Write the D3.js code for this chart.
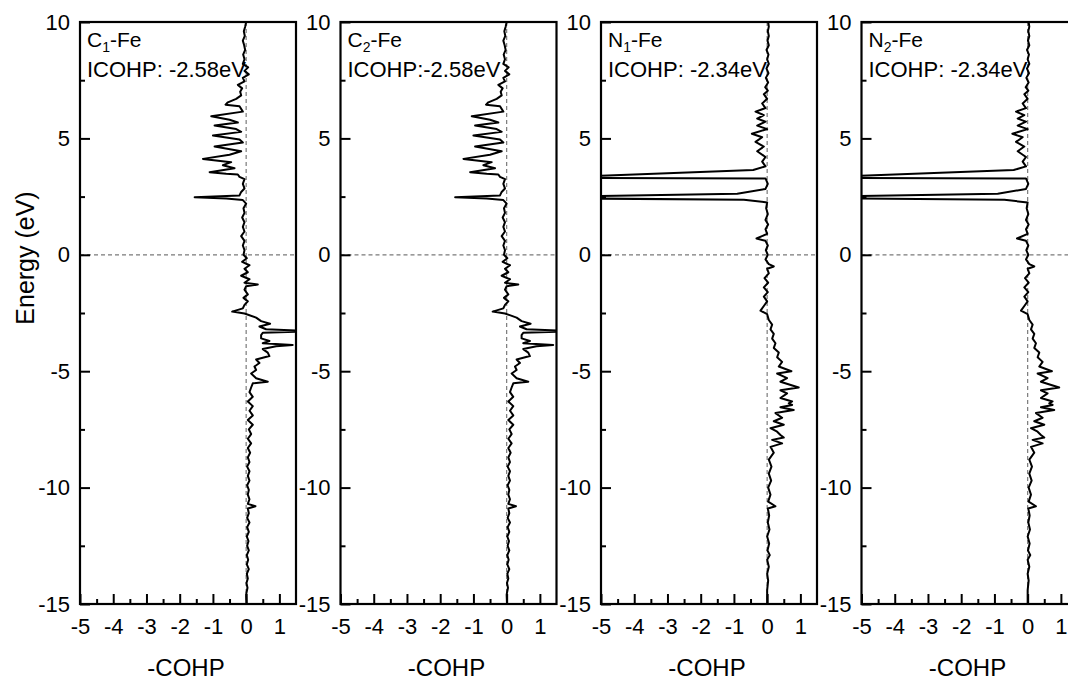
<!DOCTYPE html>
<html>
<head>
<meta charset="utf-8">
<script src="https://cdn.jsdelivr.net/npm/d3@7"></script>
<style>
  body { margin: 0; background: #fff; }
  text { font-family: "Liberation Sans", Arial, sans-serif; fill: #000; }
</style>
</head>
<body>
<div id="chart"></div>
<script>
// -COHP curves: [energy (eV), -COHP]
var c1Fe = [
  [10,0.0],[9.8,-0.03],[9.6,-0.07],[9.4,-0.04],[9.2,-0.1],[9.0,-0.06],[8.8,-0.03],[8.6,-0.09],
  [8.4,-0.05],[8.2,-0.1],[8.05,0.06],[7.9,-0.05],[7.75,0.08],[7.6,-0.1],[7.45,-0.05],[7.3,-0.25],
  [7.15,-0.12],[7.0,-0.18],[6.85,-0.15],[6.7,-0.3],[6.55,-0.55],[6.45,-0.62],[6.38,-0.2],[6.15,-0.1],
  [5.95,-1.05],[5.8,-0.5],[5.68,-0.25],[5.55,-0.95],[5.4,-0.3],[5.28,-0.15],[5.12,-1.0],[4.95,-0.2],
  [4.82,-0.1],[4.65,-0.95],[4.45,-0.15],[4.3,-0.5],[4.12,-1.3],[3.98,-0.45],[3.85,-0.7],[3.72,-0.35],
  [3.55,-1.1],[3.48,-0.6],[3.45,-0.25],[3.35,-0.2],[3.25,-0.05],[3.05,-0.1],[2.85,-0.05],[2.7,-0.15],
  [2.55,-0.2],[2.47,-1.55],[2.42,-0.6],[2.35,-0.1],[2.2,0.0],[2.0,-0.08],[1.8,-0.05],[1.6,-0.12],
  [1.4,-0.05],[1.2,-0.1],[1.0,-0.05],[0.8,-0.15],[0.6,-0.05],[0.4,-0.1],[0.2,-0.05],[0.0,-0.08],
  [-0.15,0.02],[-0.3,-0.12],[-0.45,0.1],[-0.6,-0.05],[-0.75,0.05],[-0.9,-0.15],[-1.05,0.1],[-1.2,-0.05],
  [-1.28,0.35],[-1.35,0.0],[-1.5,-0.05],[-1.7,0.05],[-1.85,-0.08],[-2.0,0.05],[-2.15,-0.05],[-2.3,-0.1],
  [-2.44,-0.42],[-2.52,-0.05],[-2.7,0.3],[-2.85,0.45],[-2.96,0.72],[-3.08,0.4],[-3.2,0.6],[-3.26,1.7],
  [-3.3,1.7],[-3.35,0.5],[-3.45,0.45],[-3.59,0.45],[-3.7,0.7],[-3.8,0.5],[-3.87,1.4],[-3.93,0.9],
  [-4.05,0.5],[-4.2,0.65],[-4.35,0.7],[-4.5,0.3],[-4.65,0.4],[-4.8,0.25],[-4.95,0.3],[-5.1,0.15],
  [-5.3,0.3],[-5.45,0.65],[-5.52,0.2],[-5.7,0.15],[-5.9,0.1],[-6.1,0.2],[-6.3,0.05],[-6.5,0.2],
  [-6.7,0.1],[-6.9,0.2],[-7.1,0.05],[-7.3,0.2],[-7.5,0.08],[-7.7,0.15],[-7.9,0.05],[-8.1,0.15],
  [-8.3,0.05],[-8.5,0.12],[-8.7,0.05],[-8.9,0.1],[-9.1,0.03],[-9.3,0.1],[-9.5,0.05],[-9.7,0.1],
  [-9.9,0.03],[-10.1,0.08],[-10.3,0.05],[-10.5,0.1],[-10.7,0.05],[-10.8,0.28],[-10.9,0.05],[-11.1,0.08],
  [-11.3,0.03],[-11.5,0.1],[-11.7,0.03],[-11.9,0.08],[-12.1,0.02],[-12.3,0.07],[-12.5,0.03],[-12.7,0.08],
  [-12.9,0.02],[-13.1,0.06],[-13.3,0.02],[-13.5,0.08],[-13.7,0.02],[-13.9,0.05],[-14.1,0.01],[-14.3,0.04],
  [-14.6,0.0],[-15,0.01]
];

// C2-Fe looks the same as C1-Fe in the figure
var c2Fe = c1Fe;

var n1Fe = [
  [10,0.03],[9.8,0.05],[9.6,0.02],[9.4,0.05],[9.2,0.01],[9.0,0.05],[8.8,-0.02],[8.6,0.04],
  [8.4,0.0],[8.2,0.05],[8.0,-0.02],[7.8,0.04],[7.6,-0.04],[7.4,0.03],[7.2,-0.06],[7.05,0.02],
  [6.9,-0.1],[6.7,0.0],[6.5,-0.15],[6.3,-0.05],[6.15,-0.35],[6.0,-0.1],[5.85,-0.3],[5.72,-0.05],
  [5.55,-0.3],[5.4,0.0],[5.2,-0.46],[5.05,-0.15],[4.85,-0.35],[4.65,-0.1],[4.45,-0.3],[4.2,-0.05],
  [4.0,-0.15],[3.8,-0.05],[3.64,-0.42],[3.31,-6.5],[3.28,-0.05],[3.05,0.02],[2.83,-0.05],[2.62,-0.9],
  [2.45,-8],[2.36,-0.7],[2.25,0.0],[2.0,-0.03],[1.75,0.02],[1.5,-0.05],[1.3,0.03],[1.1,-0.05],
  [0.9,0.0],[0.7,-0.32],[0.6,-0.05],[0.4,0.02],[0.2,-0.04],[0.0,0.02],[-0.2,-0.05],[-0.4,0.05],
  [-0.5,0.2],[-0.6,0.0],[-0.8,0.05],[-1.0,-0.08],[-1.2,0.03],[-1.4,-0.1],[-1.6,0.02],[-1.8,-0.1],
  [-2.0,0.0],[-2.2,-0.1],[-2.4,-0.2],[-2.55,0.0],[-2.8,0.05],[-3.0,0.15],[-3.2,0.1],[-3.4,0.2],
  [-3.6,0.15],[-3.8,0.25],[-4.0,0.2],[-4.2,0.35],[-4.4,0.3],[-4.6,0.45],[-4.8,0.35],[-5.0,0.73],
  [-5.1,0.3],[-5.3,0.6],[-5.45,0.4],[-5.7,0.95],[-5.82,0.4],[-5.95,0.6],[-6.15,0.4],[-6.3,0.75],
  [-6.38,0.65],[-6.45,0.75],[-6.55,0.4],[-6.67,0.8],[-6.8,0.25],[-7.0,0.45],[-7.15,0.2],[-7.3,0.5],
  [-7.45,0.1],[-7.6,0.3],[-7.74,0.4],[-7.85,0.5],[-7.95,0.15],[-8.1,0.45],[-8.25,0.1],[-8.5,0.2],
  [-8.8,0.05],[-9.1,0.13],[-9.4,0.05],[-9.7,0.12],[-10.0,0.03],[-10.3,0.1],[-10.6,0.03],[-10.8,0.25],
  [-10.9,0.02],[-11.2,0.06],[-11.5,0.02],[-11.8,0.07],[-12.1,0.0],[-12.4,0.06],[-12.7,0.01],[-12.9,0.08],
  [-13.1,0.0],[-13.4,0.05],[-13.7,0.0],[-14.0,0.03],[-14.4,0.0],[-15,0.0]
];

// N2-Fe looks the same as N1-Fe in the figure
var n2Fe = n1Fe;

var panelSeries = [c1Fe, c2Fe, n1Fe, n2Fe];
var bondAtoms = ["C", "C", "N", "N"];
var bondIndex = ["1", "2", "1", "2"];
var icohpLabels = ["ICOHP: -2.58eV", "ICOHP:-2.58eV", "ICOHP: -2.34eV", "ICOHP: -2.34eV"];

var xMajor = [-5, -4, -3, -2, -1, 0, 1];
var xMinor = [-4.5, -3.5, -2.5, -1.5, -0.5, 0.5];
var yMajor = [-15, -10, -5, 0, 5, 10];
var yMinor = [-12.5, -7.5, -2.5, 2.5, 7.5];

var W = 1068, H = 681;
var margin = {top: 22, left: 80},
    pw = 216, ph = 582, step = 260.5;

var svg = d3.select("#chart")
  .append("svg")
  .attr("width", W)
  .attr("height", H);

var x = d3.scaleLinear().domain([-5, 1.5]).range([0, pw]);
var y = d3.scaleLinear().domain([-15, 10]).range([ph, 0]);

svg.append("defs").append("clipPath")
  .attr("id", "plotclip")
  .append("rect")
  .attr("width", pw).attr("height", ph);

panelSeries.forEach(function(data, i) {
  var g = svg.append("g")
    .attr("transform", "translate(" + (margin.left + i * step) + "," + margin.top + ")");

  // dashed reference lines
  g.append("line")
    .attr("x1", 0).attr("x2", pw)
    .attr("y1", y(0)).attr("y2", y(0))
    .attr("stroke", "#7a7a7a").attr("stroke-width", 1.2)
    .attr("stroke-dasharray", "4,3");
  g.append("line")
    .attr("x1", x(0)).attr("x2", x(0))
    .attr("y1", 0).attr("y2", ph)
    .attr("stroke", "#7a7a7a").attr("stroke-width", 1.2)
    .attr("stroke-dasharray", "4,3");

  // curve
  g.append("path")
    .datum(data)
    .attr("clip-path", "url(#plotclip)")
    .attr("d", d3.line()
      .x(function(d) { return x(d[1]); })
      .y(function(d) { return y(d[0]); }))
    .attr("fill", "none")
    .attr("stroke", "#000")
    .attr("stroke-width", 2)
    .attr("stroke-linejoin", "round");

  // axes, ticks pointing inward
  g.append("g")
    .call(d3.axisLeft(y).tickValues(yMajor).tickSize(-10).tickPadding(10).tickFormat(d3.format("d")));
  g.append("g")
    .call(d3.axisLeft(y).tickValues(yMinor).tickSize(-5).tickFormat(""));
  g.append("g")
    .attr("transform", "translate(0," + ph + ")")
    .call(d3.axisBottom(x).tickValues(xMajor).tickSize(-10).tickPadding(14).tickFormat(d3.format("d")));
  g.append("g")
    .attr("transform", "translate(0," + ph + ")")
    .call(d3.axisBottom(x).tickValues(xMinor).tickSize(-5).tickFormat(""));

  g.selectAll(".domain").remove();
  g.selectAll(".tick line").attr("stroke", "#000").attr("stroke-width", 2);
  g.selectAll(".tick text")
    .style("font-size", "22px")
    .style("font-family", "'Liberation Sans', Arial, sans-serif")
    .attr("fill", "#000")
    .text(function() { return d3.select(this).text().replace("\u2212", "-"); });

  // frame
  g.append("rect")
    .attr("width", pw).attr("height", ph)
    .attr("fill", "none")
    .attr("stroke", "#000")
    .attr("stroke-width", 2.2);

  // annotations
  var lab = g.append("text")
    .attr("x", 7).attr("y", 25)
    .style("font-size", "21px");
  lab.append("tspan").text(bondAtoms[i]);
  lab.append("tspan").text(bondIndex[i]).style("font-size", "14px").attr("dy", 5);
  lab.append("tspan").text("-Fe").attr("dy", -5);

  g.append("text")
    .attr("x", 7).attr("y", 55)
    .style("font-size", "22px")
    .text(icohpLabels[i]);

  // x title
  g.append("text")
    .attr("x", pw / 2 - 2).attr("y", ph + 72)
    .attr("text-anchor", "middle")
    .style("font-size", "24px")
    .text("-COHP");
});

svg.append("text")
  .attr("transform", "translate(34,258) rotate(-90)")
  .attr("text-anchor", "middle")
  .style("font-size", "25px")
  .text("Energy (eV)");
</script>
</body>
</html>
